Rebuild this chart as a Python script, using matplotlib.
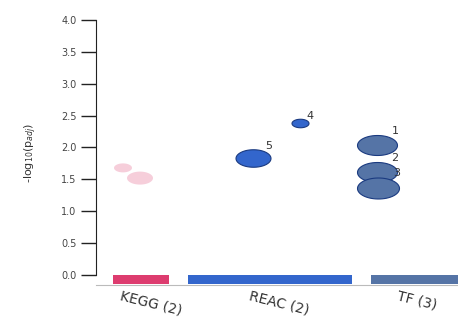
import numpy as np
import matplotlib
matplotlib.use('Agg')
import matplotlib.pyplot as plt
from matplotlib.path import Path

# sources (x ranges in plot units) and their colours
sources = ['KEGG (2)', 'REAC (2)', 'TF (3)']
src_start = [17, 92, 275]
src_end = [73, 256, 370]
src_colors = ['#dd3c6f', '#3366cc', '#5574a6']

# terms: source index, x position, -log10(p_adj), dot size, label
term_src = [0, 0, 1, 1, 2, 2, 2]
term_x = [27, 44, 157, 204, 281, 281, 282]
term_p = [1.68, 1.52, 1.83, 2.38, 2.04, 1.62, 1.37]
term_size = [18, 26, 35, 17, 40, 40, 42]
term_label = ['', '', '5', '4', '1', '2', '3']
term_alpha = [0.25, 0.25, 1, 1, 1, 1, 1]

yticks = [0.0, 0.5, 1.0, 1.5, 2.0, 2.5, 3.0, 3.5, 4.0]

# ellipse marker (the picture is stretched sideways)
t = np.linspace(0, 2 * np.pi, 60)
ell = Path(np.column_stack([np.cos(t), 0.5 * np.sin(t)]), closed=True)

fig = plt.figure(figsize=(4.58, 3.23), dpi=100)
ax = fig.add_axes([96 / 458, 1 - 285 / 323, 362 / 458, 265 / 323])
ax.set_xlim(0, 362)
ax.set_ylim(-0.157, 4.0)

for i, s in enumerate(sources):
    ax.bar(src_start[i], -0.14, width=src_end[i] - src_start[i], bottom=0,
           align='edge', color=src_colors[i], edgecolor='none')
    mid = (src_start[i] + src_end[i]) / 2
    ax.annotate(s, (mid - 19, 0), xycoords=('data', 'axes fraction'),
                xytext=(0, -3), textcoords='offset points',
                ha='left', va='top', rotation=-14, rotation_mode='anchor',
                fontsize=10, color='#333333', annotation_clip=False)

for i in range(len(term_x)):
    c = src_colors[term_src[i]]
    s = (term_size[i] / (100 / 72)) ** 2
    edge = '#1a3a80' if term_alpha[i] == 1 else 'none'
    ax.scatter(term_x[i], term_p[i], s=s, marker=ell, color=c,
               alpha=term_alpha[i], edgecolors=edge, linewidths=0.8, zorder=3)
    if term_label[i]:
        ax.annotate(term_label[i], (term_x[i], term_p[i]),
                    xytext=(term_size[i] * 0.26, term_size[i] * 0.2),
                    textcoords='offset points', fontsize=8, color='#333333')

ax.set_xticks([])

ax.set_yticks(yticks)
ax.set_yticklabels(['%.1f' % v for v in yticks], fontsize=7, color='#444444')
ax.tick_params(axis='y', length=11, width=1, pad=3, color='#222222')
ax.set_ylabel('-log$_{10}$(p$_{adj}$)', fontsize=8, color='#333333',
              labelpad=16)

ax.spines['top'].set_visible(False)
ax.spines['right'].set_visible(False)
ax.spines['left'].set_bounds(0, 4)
ax.spines['left'].set_color('#222222')
ax.spines['bottom'].set_color('#bbbbbb')

fig.savefig('out.png', dpi=100)
